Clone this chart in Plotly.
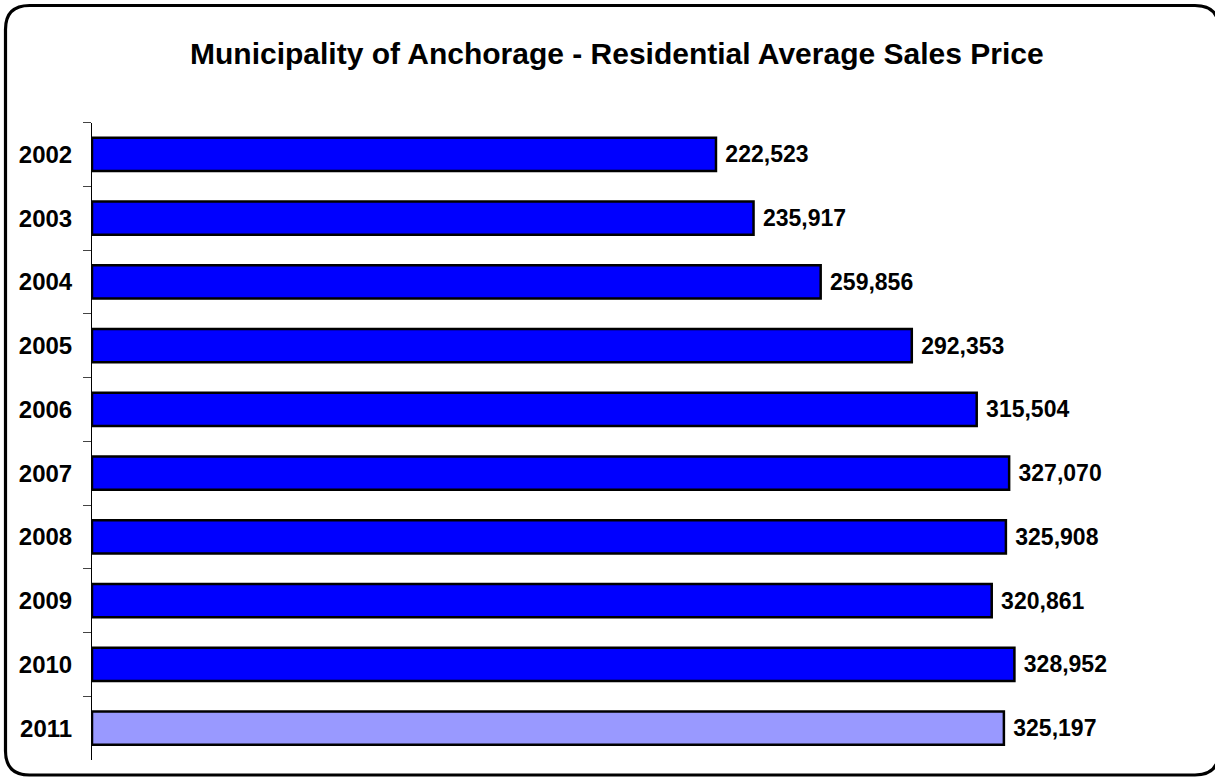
import plotly.graph_objects as go

years = ["2002", "2003", "2004", "2005", "2006", "2007", "2008", "2009", "2010", "2011"]
prices = [222523, 235917, 259856, 292353, 315504, 327070, 325908, 320861, 328952, 325197]
bar_colors = ["#0000FF"] * 9 + ["#9999FF"]
title_text = "Municipality of Anchorage - Residential Average Sales Price"

W, H = 1215, 777
FONT = "Liberation Sans, Arial, sans-serif"

def px(x):
    return x / W

def py(y):
    return (H - y) / H

fig = go.Figure()
fig.add_trace(go.Bar(
    x=prices, y=years, orientation="h",
    marker=dict(color=bar_colors, line=dict(color="black", width=2.5)),
    texttemplate="\u00a0%{x:,}", textposition="outside", constraintext="none",
    cliponaxis=False,
    textfont=dict(family=FONT, size=23, color="black", weight="bold"),
    hoverinfo="skip",
))

fig.add_annotation(
    x=px(616.5), y=py(53), xref="paper", yref="paper", text=f"<b>{title_text}</b>",
    showarrow=False, xanchor="center", yanchor="middle",
    font=dict(family=FONT, size=30, color="black"),
)

# rounded border (extends slightly past right/bottom edges as in the reference)
def rounded_path(x0, y0, x1, y1, r):
    pts = []
    pts.append(f"M {px(x0 + r)} {py(y0)}")
    pts.append(f"L {px(x1 - r)} {py(y0)}")
    pts.append(f"Q {px(x1)} {py(y0)} {px(x1)} {py(y0 + r)}")
    pts.append(f"L {px(x1)} {py(y1 - r)}")
    pts.append(f"Q {px(x1)} {py(y1)} {px(x1 - r)} {py(y1)}")
    pts.append(f"L {px(x0 + r)} {py(y1)}")
    pts.append(f"Q {px(x0)} {py(y1)} {px(x0)} {py(y1 - r)}")
    pts.append(f"L {px(x0)} {py(y0 + r)}")
    pts.append(f"Q {px(x0)} {py(y0)} {px(x0 + r)} {py(y0)}")
    pts.append("Z")
    return " ".join(pts)

fig.add_shape(type="path", xref="paper", yref="paper",
              path=rounded_path(5.5, 5.5, 1219, 775, 24),
              line=dict(color="black", width=3.2), fillcolor="white", layer="below")

fig.update_layout(
    width=W, height=H,
    margin=dict(l=0, r=0, t=0, b=0),
    paper_bgcolor="white", plot_bgcolor="rgba(0,0,0,0)",
    showlegend=False,
    bargap=0.48,
    xaxis=dict(domain=[px(92), px(1180)], range=[0, 388000], automargin=False,
               showticklabels=False, showgrid=False, zeroline=False, showline=False, ticks=""),
    yaxis=dict(domain=[py(760), py(122.5)], type="category", categoryorder="array",
               categoryarray=years, autorange="reversed", automargin=False,
               showline=True, linecolor="black", linewidth=1,
               ticks="outside", tickson="boundaries", ticklen=8, tickcolor="#444", tickwidth=1,
               showgrid=False, zeroline=False, ticklabelstandoff=14,
               tickfont=dict(family=FONT, size=24, color="black", weight="bold")),
)

fig.write_html("out.html", config={"displayModeBar": False},
               post_script="document.body.style.margin='0';document.body.style.overflow='hidden';")
